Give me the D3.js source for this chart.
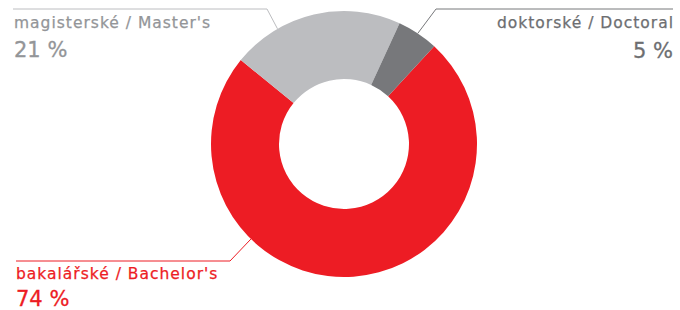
<!DOCTYPE html>
<html>
<head>
<meta charset="utf-8">
<script src="https://cdn.jsdelivr.net/npm/d3@7"></script>
<style>
  html, body { margin: 0; padding: 0; background: #fff; }
  svg { display: block; }
  text { font-family: "DejaVu Sans", sans-serif; }
</style>
</head>
<body>
<svg id="chart" width="680" height="310"></svg>
<script>
// data
const categories = ["bakalářské / Bachelor's", "magisterské / Master's", "doktorské / Doctoral"];
const shares = [74, 21, 5];

// styles
const sliceColors = ["#ED1C24", "#BCBDC0", "#77787B"];
const labelColors = ["#ED1C24", "#939598", "#6D6E71"];

const W = 680, H = 310;
const cx = 344, cy = 144, rOut = 133, rIn = 65;
const startDeg = 42.7;

const svg = d3.select("#chart");
const g = svg.append("g").attr("transform", `translate(${cx},${cy})`);

const pie = d3.pie().sort(null).value(d => d)
  .startAngle(startDeg * Math.PI / 180)
  .endAngle((startDeg + 360) * Math.PI / 180);
const arc = d3.arc().innerRadius(rIn).outerRadius(rOut);

const arcs = pie(shares);

g.selectAll("path.slice")
  .data(arcs)
  .enter().append("path")
  .attr("class", "slice")
  .attr("d", arc)
  .attr("fill", (d, i) => sliceColors[i]);

// leader lines + labels (layout per label)
const labelLayout = [
  { angle: 224.4, elbow: [230, 261], end: 16, anchor: "start", tx: 16, ty1: 279, ty2: 306 },
  { angle: 330,   elbow: [267, 9],   end: 13, anchor: "start", tx: 14, ty1: 28,  ty2: 57 },
  { angle: 33.7,  elbow: [436, 9],   end: 673, anchor: "end", tx: 673, ty1: 28, ty2: 58 }
];

const lab = svg.append("g");
labelLayout.forEach((L, i) => {
  const p = d3.pointRadial(L.angle * Math.PI / 180, rOut);
  const pts = [[cx + p[0], cy + p[1]], L.elbow, [L.end, L.elbow[1]]];
  lab.append("path")
    .attr("d", d3.line()(pts))
    .attr("fill", "none")
    .attr("stroke", i === 1 ? "#BCBDC0" : sliceColors[i])
    .attr("stroke-width", 1);
  // right-aligned text: letter-spacing adds trailing space, shift back
  const ls = 1;
  lab.append("text")
    .attr("x", L.anchor === "end" ? L.tx + ls : L.tx).attr("y", L.ty1)
    .attr("text-anchor", L.anchor)
    .attr("fill", labelColors[i])
    .attr("stroke", labelColors[i]).attr("stroke-width", 0.25)
    .style("font-size", "15.5px")
    .style("letter-spacing", ls + "px")
    .text(categories[i]);
  lab.append("text")
    .attr("x", L.tx).attr("y", L.ty2)
    .attr("text-anchor", L.anchor)
    .attr("fill", labelColors[i])
    .attr("stroke", labelColors[i]).attr("stroke-width", 0.3)
    .style("font-size", "21px")
    .text(shares[i] + " %");
});
</script>
</body>
</html>
